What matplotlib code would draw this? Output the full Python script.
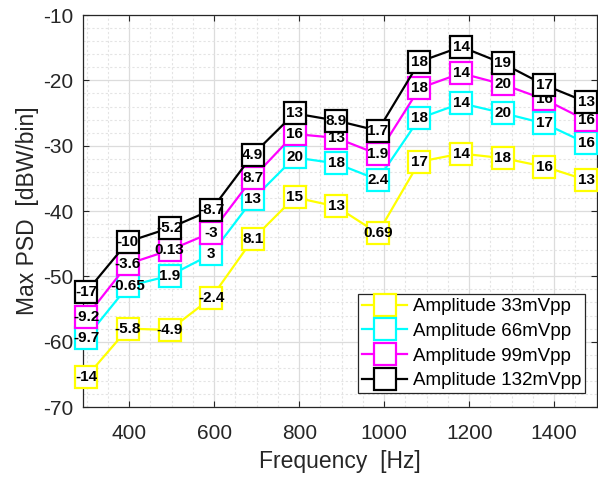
import numpy as np
import matplotlib.pyplot as plt
from matplotlib.ticker import MultipleLocator

plt.rcParams['font.family'] = ['Liberation Sans', 'DejaVu Sans']
plt.rcParams['axes.unicode_minus'] = False

# ---------------------------
# data
# ---------------------------

freq = [299, 397, 495, 593, 691, 789, 887, 985, 1083, 1181, 1279, 1377, 1475]

psd_33 = [-65.4, -58.0, -58.2, -53.3, -44.3, -37.9, -39.3, -43.4, -32.45, -31.2, -31.9, -33.2, -35.25]
psd_66 = [-59.4, -51.5, -49.9, -46.6, -38.2, -31.8, -32.7, -35.2, -25.8, -23.5, -25.0, -26.6, -29.6]
psd_99 = [-56.2, -48.1, -46.0, -43.3, -34.9, -28.2, -28.8, -31.3, -21.2, -18.9, -20.6, -22.9, -26.1]
psd_132 = [-52.4, -44.7, -42.6, -39.85, -31.35, -25.05, -26.15, -27.7, -17.15, -14.85, -17.4, -20.7, -23.3]

lab_33 = ["-14", "-5.8", "-4.9", "-2.4", "8.1", "15", "13", "0.69", "17", "14", "18", "16", "13"]
lab_66 = ["-9.7", "-0.65", "1.9", "3", "13", "20", "18", "2.4", "18", "14", "20", "17", "16"]
lab_99 = ["-9.2", "-3.6", "0.13", "-3", "8.7", "16", "13", "1.9", "18", "14", "20", "16", "16"]
lab_132 = ["-17", "-10", "-5.2", "-8.7", "4.9", "13", "8.9", "1.7", "18", "14", "19", "17", "13"]

series = [
    ("Amplitude 33mVpp", psd_33, lab_33, "#ffff00"),
    ("Amplitude 66mVpp", psd_66, lab_66, "#00ffff"),
    ("Amplitude 99mVpp", psd_99, lab_99, "#ff00ff"),
    ("Amplitude 132mVpp", psd_132, lab_132, "black"),
]

# ---------------------------
# plot
# ---------------------------

fig = plt.figure(figsize=(5.98, 4.78), dpi=100)
ax = fig.add_axes([0.1393, 0.1485, 0.8585, 0.820])

dark = "#262626"

for i, (name, vals, labs, col) in enumerate(series):
    z = 3 + 2 * i
    ax.plot(
        freq, vals,
        color=col, lw=1.6,
        marker="s", ms=15.5, mew=1.6,
        mfc="white", mec=col,
        label=name, zorder=z, clip_on=False
    )
    for f, v, t in zip(freq, vals, labs):
        ax.text(f, v, t, ha="center", va="center",
                fontsize=11, fontweight="bold", color="black",
                zorder=z + 1, clip_on=False)

ax.set_xlim(292, 1500)
ax.set_ylim(-70, -10)
ax.xaxis.set_minor_locator(MultipleLocator(50))
ax.yaxis.set_major_locator(MultipleLocator(10))
ax.yaxis.set_minor_locator(MultipleLocator(2))
ax.set_xticks([400, 600, 800, 1000, 1200, 1400])

ax.grid(which="major", color="#dcdcdc", lw=0.9, ls="-", zorder=0)
ax.grid(which="minor", color="#e4e4e4", lw=0.8, ls=(0, (2, 2)), zorder=0)
ax.set_axisbelow(True)

ax.tick_params(which="both", direction="in", top=True, right=True,
               colors=dark, labelsize=15, length=4)
ax.tick_params(which="minor", length=0)
ax.tick_params(axis="x", pad=12)
ax.tick_params(axis="y", pad=7)
for s in ax.spines.values():
    s.set_color(dark)
    s.set_linewidth(0.9)

ax.set_xlabel("Frequency  [Hz]", fontsize=16.5, color=dark, labelpad=5)
ax.set_ylabel("Max PSD  [dBW/bin]", fontsize=16.5, color=dark, labelpad=3)

leg = ax.legend(
    loc="lower right", bbox_to_anchor=(0.977, 0.036),
    fontsize=13.5, fancybox=False, framealpha=1,
    edgecolor=dark, handlelength=2.4, labelspacing=0.4,
    borderpad=0.2, handletextpad=0.3, borderaxespad=0
)
leg.get_frame().set_linewidth(0.9)
leg.set_zorder(20)

plt.savefig("out.png", dpi=100)
